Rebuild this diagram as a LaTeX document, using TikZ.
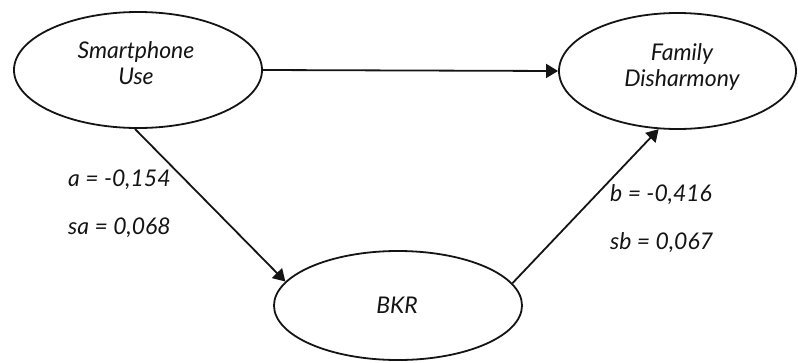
\documentclass[tikz,border=0pt]{standalone}
\usepackage{fontspec}
\setmainfont{Lato}
\usetikzlibrary{shapes.geometric,arrows.meta}
\begin{document}
\begin{tikzpicture}[x=1pt,y=-1pt,
  latent/.style={draw=black!92, line width=1.8pt, ellipse, inner sep=0pt},
  txt/.style={font=\fontsize{23}{26}\selectfont\itshape, text=black!92, align=center, inner sep=0pt},
  coef/.style={font=\fontsize{23}{26}\selectfont\itshape, text=black!92, anchor=west, inner sep=0pt},
  path/.style={draw=black!92, line width=1.8pt, -{Triangle[length=12pt,width=14pt]}}]
\useasboundingbox (0,0) rectangle (798,362);
\node[latent, minimum width=248pt, minimum height=116pt] (s) at (138,70) {};
\node[latent, minimum width=237pt, minimum height=116pt] (f) at (677.5,71) {};
\node[latent, minimum width=248pt, minimum height=109pt] (b) at (398,305.5) {};
\node[txt] (st) at (136,63) {Smartphone\\Use};
\node[txt] (ft) at (682,66.5) {Family\\Disharmony};
\node[txt] (bt) at (397,305) {BKR};
\draw[path] (s.east) -- (f.west);
\draw[path] (s.267) -- (b.168);
\draw[path] (b.11.6) -- (f.252);
\node[coef] (a) at (68,180) {a = -0,154};
\node[coef] (sa) at (68,228) {sa = 0,068};
\node[coef] (bc) at (610,195) {b = -0,416};
\node[coef] (sb) at (610,243) {sb = 0,067};
\end{tikzpicture}
\end{document}
